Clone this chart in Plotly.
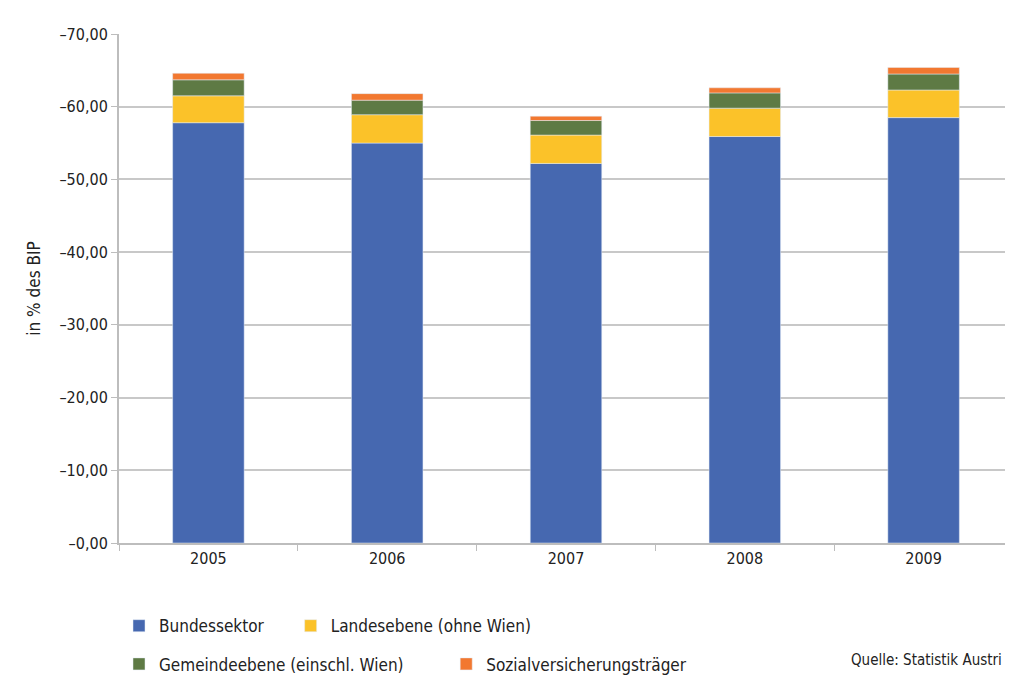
import plotly.graph_objects as go

years = ["2005", "2006", "2007", "2008", "2009"]
bund = [-57.8, -55.0, -52.2, -55.9, -58.5]
land = [-3.7, -3.9, -3.9, -3.9, -3.8]
gem = [-2.2, -2.0, -2.0, -2.1, -2.2]
sozial = [-0.9, -0.9, -0.6, -0.7, -0.9]

tick_vals = [0, -10, -20, -30, -40, -50, -60, -70]
tick_text = ["\u20130,00", "\u201310,00", "\u201320,00", "\u201330,00",
             "\u201340,00", "\u201350,00", "\u201360,00", "\u201370,00"]

# name, values, colour, legend id, legend x, legend y
series = [
    ("Bundessektor", bund, "#4668B0", "legend", 0.0, -0.128),
    ("Landesebene (ohne Wien)", land, "#FBC229", "legend2", 0.192, -0.128),
    ("Gemeindeebene (einschl. Wien)", gem, "#5E7A44", "legend3", 0.0, -0.203),
    ("Sozialversicherungsträger", sozial, "#F27830", "legend4", 0.366, -0.203),
]

fig = go.Figure()
legends = {}
for name, vals, color, leg, lx, ly in series:
    fig.add_trace(go.Bar(x=years, y=vals, name=name, marker_color=color,
                         width=0.4, legend=leg, showlegend=True))
    legends[leg] = dict(orientation="h", xanchor="left", x=lx, yanchor="top", y=ly,
                        font=dict(size=17, color="#222"),
                        bgcolor="rgba(0,0,0,0)", itemwidth=30)

fig.update_layout(
    barmode="relative",
    showlegend=True,
    width=1013, height=682,
    margin=dict(l=111, r=8, t=26, b=124),
    plot_bgcolor="white", paper_bgcolor="white",
    font=dict(family="DejaVu Sans Condensed, sans-serif", color="#222"),
    yaxis=dict(range=[0, -70], tickvals=tick_vals, ticktext=tick_text,
               showgrid=True, gridcolor="#c8c8c8", gridwidth=1.5,
               showline=True, linecolor="#bdbdbd", linewidth=2,
               ticks="outside", ticklen=6, tickcolor="#bdbdbd",
               tickfont=dict(size=16), zeroline=False,
               title=dict(text="in % des BIP", font=dict(size=17), standoff=14)),
    xaxis=dict(showline=True, linecolor="#bdbdbd", linewidth=2,
               ticks="outside", tickson="boundaries", ticklen=6, tickcolor="#bdbdbd",
               tickfont=dict(size=16)),
    annotations=[dict(text="Quelle: Statistik Austri", xref="paper", yref="paper",
                      x=0.99, y=-0.229, xanchor="right", yanchor="middle",
                      showarrow=False, font=dict(size=15, color="#222"))],
)
fig.update_layout(**legends)

fig.write_html("out.html")
